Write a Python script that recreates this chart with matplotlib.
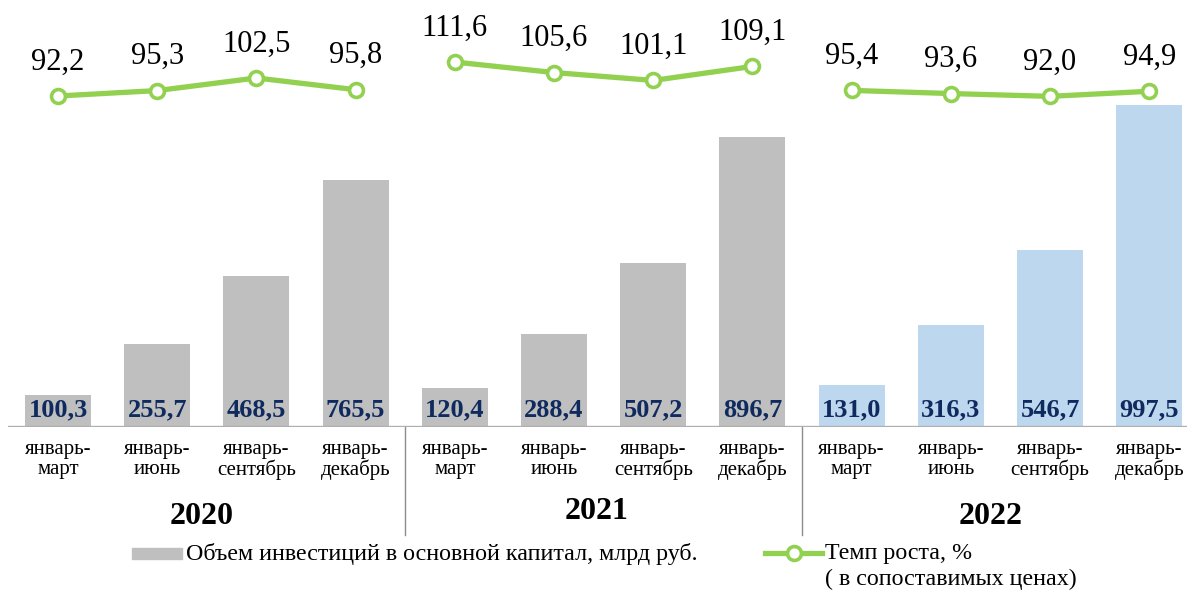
import matplotlib
matplotlib.use("Agg")
import matplotlib.pyplot as plt
from matplotlib.patches import Rectangle
from matplotlib.lines import Line2D

plt.rcParams['font.family'] = ['Liberation Serif', 'DejaVu Serif']

years = ['2020', '2021', '2022']
periods = ['январь-\nмарт', 'январь-\nиюнь', 'январь-\nсентябрь', 'январь-\nдекабрь']
investment = [100.3, 255.7, 468.5, 765.5,
              120.4, 288.4, 507.2, 896.7,
              131.0, 316.3, 546.7, 997.5]
growth = [92.2, 95.3, 102.5, 95.8,
          111.6, 105.6, 101.1, 109.1,
          95.4, 93.6, 92.0, 94.9]
bar_label = 'Объем инвестиций в основной капитал, млрд руб.'
line_label = 'Темп роста, %'
line_label2 = '( в сопоставимых ценах)'

W, H = 1187, 594
fig = plt.figure(figsize=(W / 100, H / 100), dpi=100)

def px2fig(x, y):
    return x / W, 1 - y / H

base_px = 427
ax = fig.add_axes([8 / W, 1 - base_px / H, 1179 / W, base_px / H])
ax2 = ax.twinx()
ax2.set_position(ax.get_position())

n = len(investment)
xs = list(range(n))
colors = ['#BFBFBF'] * 8 + ['#BDD7EE'] * 4
ax.bar(xs, investment, width=0.665, color=colors, zorder=2)
ax.set_xlim((8 - 58) / 99.2, (1187 - 58) / 99.2)
ax.set_ylim(0, base_px / 0.323)
ax.axhline(0, color='#AFAFAF', lw=2.4, zorder=3)

# value labels inside bars
for x, v in zip(xs, investment):
    ax.annotate(f'{v:.1f}'.replace('.', ','), xy=(x, 0), xycoords=('data', 'axes fraction'),
                xytext=(0, 17 / 1.389), textcoords='offset points',
                ha='center', va='center', fontsize=19, fontweight='bold',
                color='#0F2A5E', zorder=4)

# category labels
for x in xs:
    ax.annotate(periods[x % 4], xy=(x, 0), xycoords=('data', 'axes fraction'),
                xytext=(0, -13 / 1.389), textcoords='offset points',
                ha='center', va='top', fontsize=15, linespacing=1.05,
                annotation_clip=False)

# year labels
year_off = [90, 85, 90]
year_x = [1.45, 5.43, 9.4]
for i, y in enumerate(years):
    ax.annotate(y, xy=(year_x[i], 0), xycoords=('data', 'axes fraction'),
                xytext=(0, -year_off[i] / 1.389), textcoords='offset points',
                ha='center', va='center', fontsize=23, fontweight='bold',
                annotation_clip=False)

# separators
for sx in [3.5, 7.5]:
    ax.plot([sx, sx], [0, -(535 - base_px) / base_px], color='#8C8C8C', lw=1.0,
            transform=ax.get_xaxis_transform(), clip_on=False)

# growth line
lo = 92.2 - (base_px - 96) / 1.75
ax2.set_ylim(lo, lo + base_px / 1.75)
for g in range(3):
    seg_x = xs[g * 4:(g + 1) * 4]
    seg_y = growth[g * 4:(g + 1) * 4]
    ax2.plot(seg_x, seg_y, color='#92D050', lw=3.8, marker='o', markersize=10,
             markerfacecolor='white', markeredgecolor='#92D050', markeredgewidth=2.6,
             zorder=5)
for x, v in zip(xs, growth):
    ax2.annotate(f'{v:.1f}'.replace('.', ','), xy=(x, v), xytext=(0, 34 / 1.389),
                 textcoords='offset points', ha='center', va='center', fontsize=22)

for a in (ax, ax2):
    a.set_xticks([])
    a.set_yticks([])
    for s in a.spines.values():
        s.set_visible(False)
    a.patch.set_visible(False)

# legend (manual)
x0, y0 = px2fig(132, 559)
fig.patches.append(Rectangle((x0, y0), 50 / W, 11 / H, transform=fig.transFigure,
                             color='#BFBFBF'))
fig.text(*px2fig(186, 554), bar_label, ha='left', va='center', fontsize=17.3)
lx0, ly = px2fig(765, 553)
lx1, _ = px2fig(822, 553)
fig.lines.append(Line2D([lx0, lx1], [ly, ly], transform=fig.transFigure, color='#92D050',
                        lw=3.8))
fig.lines.append(Line2D([(lx0 + lx1) / 2], [ly], transform=fig.transFigure, color='#92D050',
                        marker='o', markersize=10, markerfacecolor='white',
                        markeredgewidth=2.6, lw=0))
fig.text(*px2fig(825, 554), line_label, ha='left', va='center', fontsize=17.3)
fig.text(*px2fig(825, 579), line_label2, ha='left', va='center', fontsize=17.3)

fig.savefig('out.png', dpi=100)
